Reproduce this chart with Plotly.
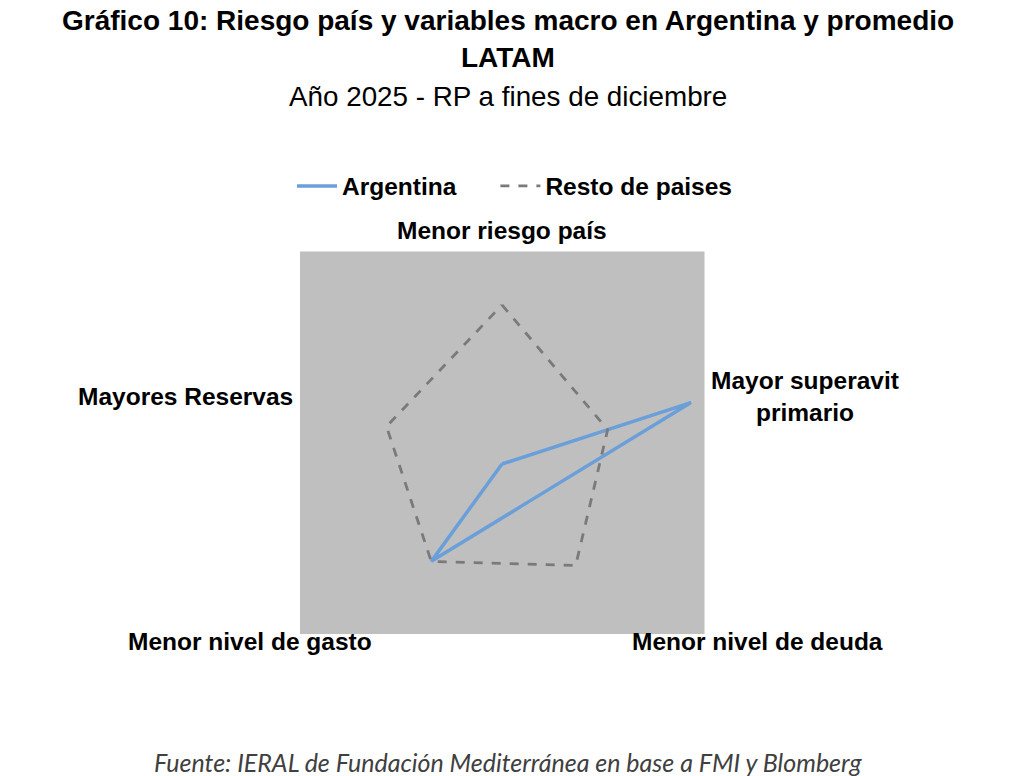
import plotly.graph_objects as go

categories = ["Menor riesgo país", "Mayor superavit primario", "Menor nivel de deuda",
              "Menor nivel de gasto", "Mayores Reservas"]
argentina = [0.0, 0.903, 0.21, 0.547, 0.0]
resto = [0.723, 0.505, 0.57, 0.547, 0.552]
series_names = ["Argentina", "Resto de paises"]

title_l1 = "Gráfico 10: Riesgo país y variables macro en Argentina y promedio"
title_l2 = "LATAM"
subtitle = "Año 2025 - RP a fines de diciembre"
source = "Fuente: IERAL de Fundación Mediterránea en base a FMI y Blomberg"

W, H = 1024, 776
FONT = "Liberation Sans, Arial, sans-serif"

def px(x):
    return x / W

def py(y):
    return 1 - y / H

fig = go.Figure()
fig.add_trace(go.Scatterpolar(
    r=argentina + [argentina[0]], theta=categories + [categories[0]],
    mode="lines", name=series_names[0] + "&nbsp;" * 5,
    line=dict(color="#6a9fd9", width=3.5),
))
fig.add_trace(go.Scatterpolar(
    r=resto + [resto[0]], theta=categories + [categories[0]],
    mode="lines", name=series_names[1],
    line=dict(color="#7a7a7a", width=2.8, dash="dash"),
))

cx, cy, R = 502, 464, 220
fig.update_layout(
    width=W, height=H,
    margin=dict(l=0, r=0, t=0, b=0),
    paper_bgcolor="white",
    font=dict(family=FONT, color="black"),
    polar=dict(
        domain=dict(x=[px(cx - R), px(cx + R)], y=[py(cy + R), py(cy - R)]),
        bgcolor="rgba(0,0,0,0)",
        angularaxis=dict(rotation=90, direction="clockwise", showgrid=False,
                         showline=False, showticklabels=False, ticks=""),
        radialaxis=dict(range=[0, 1], visible=False, showgrid=False),
    ),
    showlegend=True,
    legend=dict(orientation="h", x=px(292), xanchor="left", y=py(186), yanchor="middle",
                font=dict(size=24.5, family=FONT, color="black", weight="bold"),
                bgcolor="rgba(0,0,0,0)", itemwidth=40),
    shapes=[dict(type="rect", xref="paper", yref="paper",
                 x0=px(300), x1=px(704.5), y0=py(634), y1=py(251.5),
                 fillcolor="#bfbfbf", line=dict(width=0), layer="below")],
)

anns = [
    dict(text="<b>" + title_l1 + "</b>", x=px(508), y=py(20), size=28),
    dict(text="<b>" + title_l2 + "</b>", x=px(508), y=py(58), size=28),
    dict(text=subtitle, x=px(508), y=py(96), size=27.8),
    dict(text="<b>" + categories[0] + "</b>", x=px(502), y=py(230), size=24.5),
    dict(text="<b>Mayor superavit<br>primario</b>", x=px(805), y=py(396), size=24.5),
    dict(text="<b>" + categories[2] + "</b>", x=px(757), y=py(641), size=24.5),
    dict(text="<b>" + categories[3] + "</b>", x=px(250), y=py(641), size=24.5),
    dict(text="<b>" + categories[4] + "</b>", x=px(185), y=py(396), size=24.5),
]
for a in anns:
    fig.add_annotation(text=a["text"], x=a["x"], y=a["y"], xref="paper", yref="paper",
                       xanchor="center", yanchor="middle", showarrow=False,
                       font=dict(size=a["size"], family=FONT, color="black"))

fig.add_annotation(text="<i>" + source + "</i>", x=px(508), y=py(762), xref="paper", yref="paper",
                   xanchor="center", yanchor="middle", showarrow=False,
                   font=dict(size=25, family="Lato, Open Sans, sans-serif", color="#404040"))

fig.write_html("out.html", config={"displayModeBar": False},
               post_script="document.body.style.margin='0';")
